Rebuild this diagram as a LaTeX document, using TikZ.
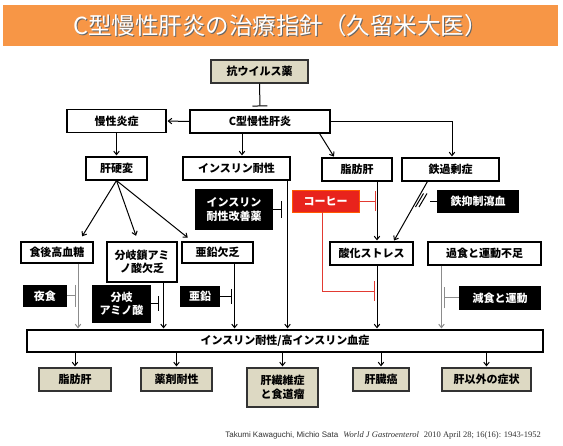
\documentclass[tikz,border=0pt]{standalone}
\usepackage{fontspec}
\setmainfont{Liberation Serif}
\newfontfamily\jp{Noto Sans CJK JP}
\newfontfamily\citesans{Liberation Sans}
\usetikzlibrary{arrows.meta,shadows}
\definecolor{titleor}{HTML}{F79646}
\definecolor{beige}{HTML}{DDD9C3}
\definecolor{cofred}{HTML}{E8231C}
\definecolor{inhred}{HTML}{E23A32}
\definecolor{lgray}{HTML}{8C8C8C}
\begin{document}
\begin{tikzpicture}[x=1pt,y=-1pt,
  jpf/.style={font=\jp\bfseries\fontsize{11}{13.5}\selectfont},
  box/.style={jpf, draw=black, line width=1.1pt, fill=white, inner sep=0pt, align=center},
  tanbox/.style={box, fill=beige, draw=black!80, drop shadow={shadow xshift=1pt, shadow yshift=-1pt, fill=black!70, opacity=1}},
  blk/.style={jpf, fill=black, text=white, inner sep=0pt, align=center},
  redbox/.style={jpf, fill=cofred, draw=orange!70!red, line width=0.8pt, text=white, inner sep=0pt, align=center},
  arr/.style={-{Straight Barb[length=3.5pt,width=5.5pt]}, line width=1pt, shorten >=1pt},
  garr/.style={arr, draw=lgray},
  inh/.style={-{Bar[width=15pt,line width=1pt]}, line width=1pt},
  ginh/.style={inh, draw=lgray},
  redinh/.style={-{Bar[width=20pt,line width=1pt]}, line width=0.9pt, draw=inhred},
]
\useasboundingbox (0,0) rectangle (563,446);
\fill[white] (0,0) rectangle (563,446);

% title
\node[fill=titleor, minimum width=555pt, minimum height=41pt, inner sep=0pt] (title) at (280.5,25.5) {};
\node[text=black!60, font=\jp\fontsize{23.5}{25}\selectfont, inner sep=0pt] (titleshadow) at ([xshift=1.2pt,yshift=-1.2pt]title.center) {C型慢性肝炎の治療指針（久留米大医）};
\node[text=white, font=\jp\fontsize{23.5}{25}\selectfont, inner sep=0pt] (titletext) at (title.center) {C型慢性肝炎の治療指針（久留米大医）};

% nodes
\node[tanbox, minimum width=97pt, minimum height=23pt] (anti) at (259.5,71.5) {抗ウイルス薬};
\node[box, minimum width=140pt, minimum height=23pt] (hcv) at (260,121.5) {C型慢性肝炎};
\node[box, minimum width=99pt, minimum height=23pt] (inflam) at (116.5,121) {慢性炎症};
\node[box, minimum width=61pt, minimum height=23pt] (cirr) at (116.5,168.5) {肝硬変};
\node[box, minimum width=107pt, minimum height=23pt] (ir) at (236.5,168.5) {インスリン耐性};
\node[box, minimum width=70pt, minimum height=23pt] (fatty) at (357,169.5) {脂肪肝};
\node[box, minimum width=97pt, minimum height=23pt] (iron) at (450.5,169.5) {鉄過剰症};
\node[blk, minimum width=78pt, minimum height=41pt] (irdrug) at (234,209.5) {インスリン\\耐性改善薬};
\node[redbox, minimum width=67pt, minimum height=22pt] (coffee) at (325.5,201) {コーヒー};
\node[blk, minimum width=82pt, minimum height=23pt] (phleb) at (478,201.5) {鉄抑制瀉血};
\node[box, minimum width=72pt, minimum height=21pt] (pph) at (57,252.5) {食後高血糖};
\node[box, minimum width=70pt, minimum height=40pt] (bcaa) at (142,262) {分岐鎖アミ\\ノ酸欠乏};
\node[box, minimum width=71pt, minimum height=21pt] (zinc) at (217.5,252.5) {亜鉛欠乏};
\node[box, minimum width=83pt, minimum height=23pt] (ox) at (371.5,253.5) {酸化ストレス};
\node[box, minimum width=113pt, minimum height=23pt] (over) at (484.5,253.5) {過食と運動不足};
\node[blk, minimum width=44pt, minimum height=22pt] (late) at (45,296) {夜食};
\node[blk, minimum width=59pt, minimum height=38pt] (bcaadrug) at (121.5,304) {分岐\\アミノ酸};
\node[blk, minimum width=40pt, minimum height=21pt] (zincdrug) at (200,296.5) {亜鉛};
\node[blk, minimum width=82pt, minimum height=24pt] (diet) at (500,298) {減食と運動};
\node[box, minimum width=516pt, minimum height=22pt] (big) at (285,341) {インスリン耐性/高インスリン血症};
\node[tanbox, minimum width=72pt, minimum height=23pt] (b1) at (75,379.5) {脂肪肝};
\node[tanbox, minimum width=71pt, minimum height=23pt] (b2) at (176.5,379.5) {薬剤耐性};
\node[tanbox, minimum width=71pt, minimum height=39pt] (b3) at (282.5,387.5) {肝繊維症\\と食道瘤};
\node[tanbox, minimum width=56pt, minimum height=23pt] (b4) at (381,379.5) {肝臓癌};
\node[tanbox, minimum width=89pt, minimum height=23pt] (b5) at (486.5,379.5) {肝以外の症状};

% connectors
\draw[inh] (anti.south) -- ([yshift=3pt]hcv.north);
\draw[arr] (hcv.west) -- (inflam.east);
\draw[arr] (inflam.south) -- (cirr.north);
\draw[arr] ([xshift=-18pt]hcv.south) -- ([xshift=5.5pt]ir.north);
\draw[arr] ([xshift=-11pt]hcv.south east) -- ([xshift=13pt]fatty.north west);
\draw[arr] (hcv.east) -| ([xshift=1.5pt]iron.north);

\coordinate (irx) at ([xshift=-3pt]ir.south east);
\draw[arr] (irx) -- (irx |- big.north);
\draw[inh, -{Bar[width=17pt,line width=1pt]}] (irdrug.east) -- ++(9,0);

\coordinate (fx) at ([xshift=20pt]fatty.south);
\draw[arr] (fx) -- (fx |- ox.north);
\draw[redinh] (coffee.east) -- ++(17,0);
\coordinate (cofend) at (375,291);
\draw[redinh] ([xshift=-3.5pt]coffee.south) |- (cofend);

\draw[arr] ([xshift=26pt]iron.south west) -- ([xshift=-20pt]ox.north east);
\coordinate (phend) at ([xshift=-7pt]phleb.west);
\draw[line width=1pt] (phleb.west) -- (phend);
\draw[line width=1pt] (427,193.5) -- (419,207);
\draw[line width=1pt] (423.5,193.5) -- (415.5,207);

\draw[arr, shorten >=6pt] (cirr.south) -- ([xshift=22pt]pph.north);
\draw[arr, shorten >=6pt] (cirr.south) -- ([xshift=-4pt]bcaa.north);
\draw[arr, shorten >=6pt] (cirr.south) -- ([xshift=11pt]zinc.north west);

\coordinate (gx1) at ([xshift=21pt]pph.south);
\draw[garr] (gx1) -- (gx1 |- big.north);
\draw[ginh, -{Bar[width=22pt,line width=1pt]}] (late.east) -- ++(9,0);

\coordinate (bx) at ([xshift=-14pt]bcaa.south east);
\draw[arr] (bx) -- (bx |- big.north);
\draw[inh] (bcaadrug.east) -- ++(8,0);

\coordinate (zx) at ([xshift=-19pt]zinc.south east);
\draw[arr] (zx) -- (zx |- big.north);
\draw[inh] (zincdrug.east) -- ++(12,0);

\draw[arr] (fx |- ox.south) -- (fx |- big.north);

\coordinate (ovx) at ([xshift=14pt]over.south west);
\draw[garr] (ovx) -- (ovx |- big.north);
\draw[ginh, -{Bar[width=21pt,line width=1pt]}] (diet.west) -- ++(-15,0);

\foreach \b in {b1,b2,b3,b4,b5}
  \draw[arr] (\b.north |- big.south) -- (\b.north);

% citation
\node[anchor=base east, inner sep=0pt, text=black!80] (cite) at (541,438)
  {{\citesans\fontsize{8}{9}\selectfont Takumi Kawaguchi, Michio Sata}\ \ {\fontsize{8.5}{9}\selectfont\itshape World J Gastroenterol}\ \ {\fontsize{8.5}{9}\selectfont 2010 April 28; 16(16): 1943-1952}};
\end{tikzpicture}
\end{document}
